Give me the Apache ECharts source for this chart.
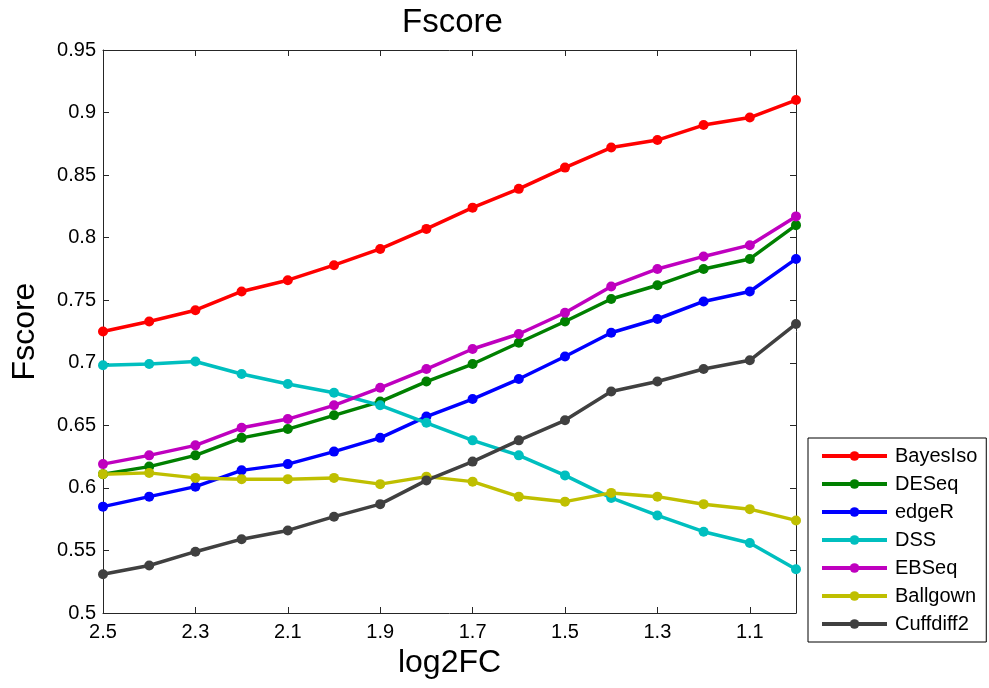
<!DOCTYPE html>
<html>
<head>
<meta charset="utf-8">
<script src="https://cdn.jsdelivr.net/npm/echarts@6/dist/echarts.min.js"></script>
<style>
  html, body { margin: 0; padding: 0; background: #fff; }
  #fscore_chart { width: 989px; height: 688px; }
</style>
</head>
<body>
<div id="fscore_chart"></div>
<script>
// log2FC thresholds, from 2.5 down to 1.0
var categories = ["2.5", "2.4", "2.3", "2.2", "2.1", "2.0", "1.9", "1.8", "1.7", "1.6", "1.5", "1.4", "1.3", "1.2", "1.1", "1.0"];

var bayesIso = [0.725, 0.733, 0.742, 0.757, 0.766, 0.778, 0.791, 0.807, 0.824, 0.839, 0.856, 0.872, 0.878, 0.890, 0.896, 0.910];
var deseq = [0.611, 0.617, 0.626, 0.640, 0.647, 0.658, 0.669, 0.685, 0.699, 0.716, 0.733, 0.751, 0.762, 0.775, 0.783, 0.810];
var edgeR = [0.585, 0.593, 0.601, 0.614, 0.619, 0.629, 0.640, 0.657, 0.671, 0.687, 0.705, 0.724, 0.735, 0.749, 0.757, 0.783];
var dss = [0.698, 0.699, 0.701, 0.691, 0.683, 0.676, 0.666, 0.652, 0.638, 0.626, 0.610, 0.592, 0.578, 0.565, 0.556, 0.535];
var ebseq = [0.619, 0.626, 0.634, 0.648, 0.655, 0.666, 0.680, 0.695, 0.711, 0.723, 0.740, 0.761, 0.775, 0.785, 0.794, 0.817];
var ballgown = [0.611, 0.612, 0.608, 0.607, 0.607, 0.608, 0.603, 0.609, 0.605, 0.593, 0.589, 0.596, 0.593, 0.587, 0.583, 0.574];
var cuffdiff2 = [0.531, 0.538, 0.549, 0.559, 0.566, 0.577, 0.587, 0.606, 0.621, 0.638, 0.654, 0.677, 0.685, 0.695, 0.702, 0.731];

var names = ["BayesIso", "DESeq", "edgeR", "DSS", "EBSeq", "Ballgown", "Cuffdiff2"];
var values = [bayesIso, deseq, edgeR, dss, ebseq, ballgown, cuffdiff2];
var colors = ["#ff0000", "#008000", "#0000ff", "#00bfbf", "#bf00bf", "#bfbf00", "#404040"];

var font = "Liberation Sans, Arial, sans-serif";
var axisColor = "#262626";

var chart = echarts.init(document.getElementById("fscore_chart"));

var option = {
    animation: false,
    color: colors,
    textStyle: { fontFamily: font },
    title: {
        text: "Fscore",
        left: 397,
        top: 1,
        textStyle: { fontFamily: font, fontSize: 33, fontWeight: "normal", color: "#000" }
    },
    grid: { left: 103, right: 193, top: 50, bottom: 75 },
    legend: {
        orient: "vertical",
        left: 808,
        top: 438,
        padding: [8, 9, 8, 12],
        itemWidth: 65,
        itemHeight: 12,
        itemGap: 8,
        borderColor: "#000",
        borderWidth: 1,
        backgroundColor: "#fff",
        lineStyle: { width: 4 },
        textStyle: { fontFamily: font, fontSize: 20, lineHeight: 20, color: "#000", padding: [0, 0, 0, 3] },
        data: names
    },
    xAxis: [
        {
            type: "category",
            data: categories,
            boundaryGap: false,
            name: "log2FC",
            nameLocation: "middle",
            nameGap: 30,
            nameTextStyle: { fontFamily: font, fontSize: 32, color: "#000" },
            axisLine: { lineStyle: { color: axisColor, width: 1 } },
            axisTick: { inside: true, length: 6, interval: 1, alignWithLabel: true, lineStyle: { color: axisColor } },
            axisLabel: { interval: 1, fontSize: 20, color: "#000", margin: 9 },
            splitLine: { show: false }
        },
        {
            type: "category",
            data: categories,
            boundaryGap: false,
            position: "top",
            axisLine: { lineStyle: { color: axisColor, width: 1 } },
            axisTick: { inside: true, length: 6, interval: 1, lineStyle: { color: axisColor } },
            axisLabel: { show: false },
            splitLine: { show: false }
        }
    ],
    yAxis: [
        {
            type: "value",
            min: 0.5,
            max: 0.95,
            interval: 0.05,
            name: "Fscore",
            nameLocation: "middle",
            nameGap: 62,
            nameTextStyle: { fontFamily: font, fontSize: 32, color: "#000" },
            axisLine: { show: true, lineStyle: { color: axisColor, width: 1 } },
            axisTick: { show: true, inside: true, length: 6, lineStyle: { color: axisColor } },
            axisLabel: { fontSize: 20, color: "#000", margin: 7 },
            splitLine: { show: false }
        },
        {
            type: "value",
            min: 0.5,
            max: 0.95,
            interval: 0.05,
            position: "right",
            axisLine: { show: true, lineStyle: { color: axisColor, width: 1 } },
            axisTick: { show: true, inside: true, length: 6, lineStyle: { color: axisColor } },
            axisLabel: { show: false },
            splitLine: { show: false }
        }
    ],
    series: names.map(function (n, i) {
        return {
            name: n,
            type: "line",
            data: values[i],
            symbol: "circle",
            symbolSize: 10,
            showAllSymbol: true,
            lineStyle: { width: 3.5, color: colors[i] },
            itemStyle: { color: colors[i] }
        };
    })
};

chart.setOption(option);
window.addEventListener("resize", function () {
    chart.resize();
});
</script>
</body>
</html>
